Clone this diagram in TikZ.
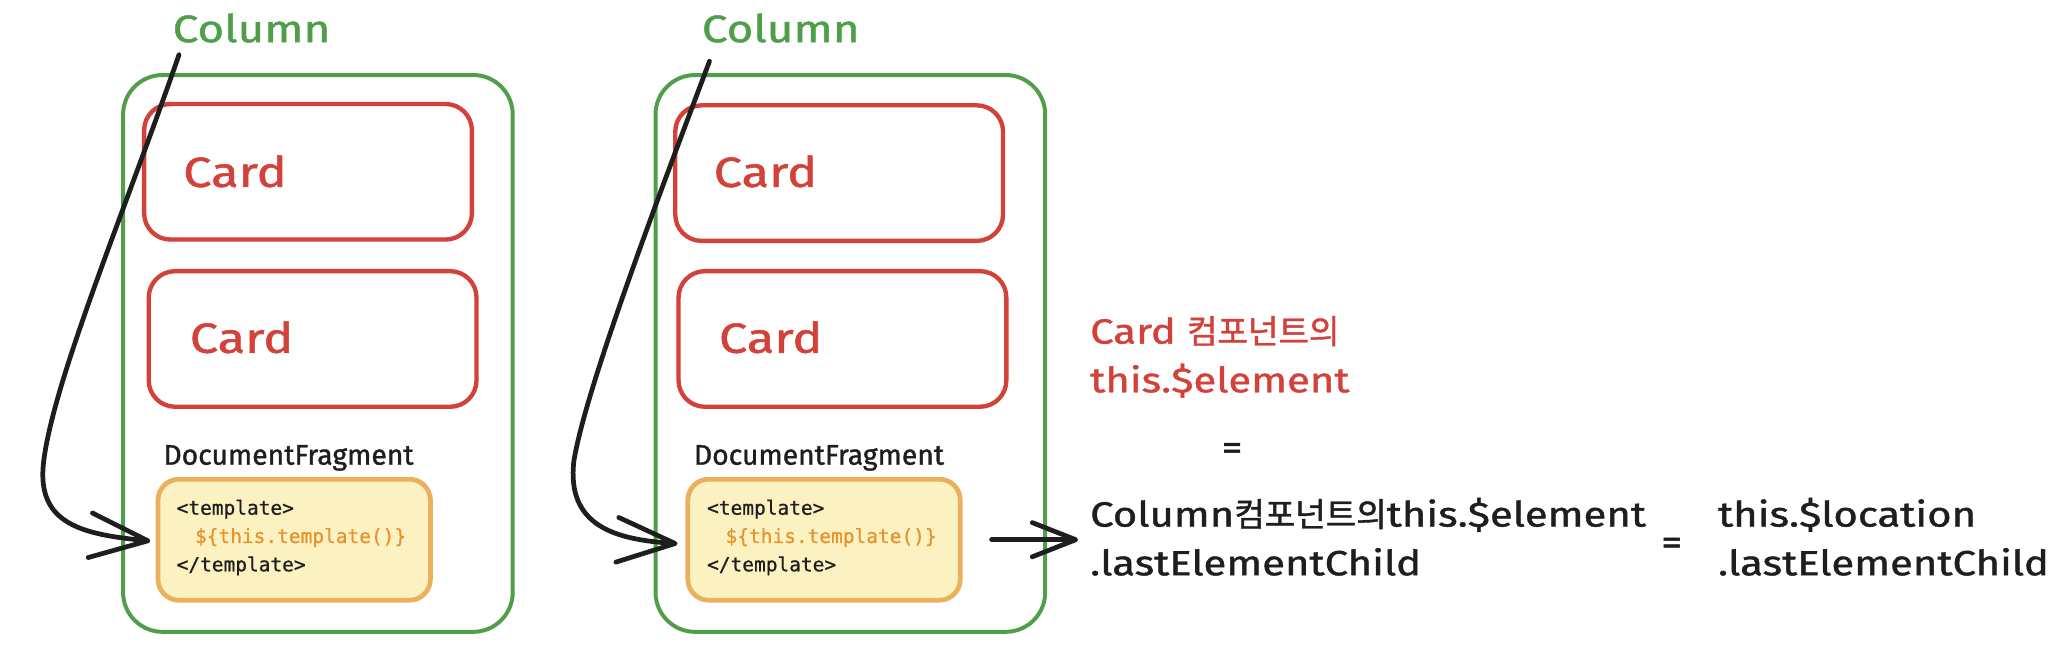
\documentclass[tikz,border=0pt]{standalone}
\usepackage{fontspec}
\setmainfont{Fira Sans}[FakeBold=1.2]
\newfontfamily\krf[Scale=0.95,FakeBold=1.2]{Noto Sans CJK KR}
\newfontfamily\codef[FakeBold=0.8]{DejaVu Sans Mono}
\newfontfamily\widef[FakeStretch=1.2,FakeBold=1.2]{Fira Sans}
\usetikzlibrary{arrows.meta,calc}
\definecolor{cgreen}{HTML}{4F9E4A}
\definecolor{cred}{HTML}{D2413A}
\definecolor{cfill}{HTML}{FCF1C0}
\definecolor{cedge}{HTML}{EBB05B}
\definecolor{corange}{HTML}{E8922F}
\definecolor{cink}{HTML}{1E1E1E}
\begin{document}
\begin{tikzpicture}[x=1pt,y=-1pt,
  colbox/.style={draw=cgreen, line width=3pt, rounded corners=30pt, inner sep=0pt, minimum width=296pt, minimum height=423pt},
  cardbox/.style={draw=cred, line width=3.3pt, rounded corners=20pt, inner sep=0pt, minimum width=249pt, minimum height=103pt},
  fragbox/.style={draw=cedge, fill=cfill, line width=3.6pt, rounded corners=16pt, inner sep=0pt, minimum width=207pt, minimum height=92pt},
  collbl/.style={text=cgreen, font=\widef\fontsize{29}{34}\selectfont, inner sep=0pt},
  cardlbl/.style={text=cred, font=\widef\fontsize{32}{38}\selectfont, inner sep=0pt},
  fraglbl/.style={text=cink, font=\fontsize{21.5}{24}\selectfont, inner sep=0pt},
  codetxt/.style={text=cink, font=\codef\fontsize{14.8}{21.5}\selectfont, align=left, inner sep=0pt},
  rtxt/.style={text=cink, font=\widef\fontsize{26.5}{37}\selectfont, align=left, inner sep=0pt},
  link/.style={draw=cink, line width=3.6pt, line cap=round, -{Straight Barb[length=44pt,width=34pt,round]}},
  shortlink/.style={draw=cink, line width=3.6pt, line cap=round, -{Straight Barb[length=33pt,width=26pt,round]}}
]
\useasboundingbox (0,0) rectangle (1568,498);

% left column
\node[colbox] (g1) at (241.5,268.5) {};
\node[cardbox] (k1) at (234,130.5) {};
\node[cardbox] (k2) at (237.5,257.5) {};
\node[fragbox] (y1) at (223.5,410) {};
\node[collbl, anchor=base west] (col1) at (131,32) {Column};
\node[cardlbl, anchor=base west] (k1t) at (139,142) {Card};
\node[cardlbl, anchor=base west] (k2t) at (144,268) {Card};
\node[fraglbl, anchor=base west] (f1) at (124,353) {DocumentFragment};
\node[codetxt, anchor=base west] (c1) at (134,434) {<template>\\\hspace*{14pt}\textcolor{corange}{\$\{this.template()\}}\\</template>};

% right column
\node[colbox] (g2) at (646,268.5) {};
\node[cardbox] (k3) at (637.5,131.5) {};
\node[cardbox] (k4) at (640,257.5) {};
\node[fragbox] (y2) at (626,410) {};
\node[collbl, anchor=base west] (col2) at (533,32) {Column};
\node[cardlbl, anchor=base west] (k3t) at (542,142) {Card};
\node[cardlbl, anchor=base west] (k4t) at (546,268) {Card};
\node[fraglbl, anchor=base west] (f2) at (527,353) {DocumentFragment};
\node[codetxt, anchor=base west] (c2) at (537,434) {<template>\\\hspace*{14pt}\textcolor{corange}{\$\{this.template()\}}\\</template>};

% right texts
\node[rtxt, text=cred, anchor=base west] (rt1) at (828,298) {Card {\krf 컴포넌트의}\\this.\$element};
\node[rtxt, anchor=base] (eq1) at (936,349) {=};
\node[rtxt, anchor=base west] (rt2) at (828,437) {Column{\krf 컴포넌트의}this.\$element\\.lastElementChild};
\node[rtxt, anchor=base] (eq2) at (1270,421) {=};
\node[rtxt, anchor=base west] (rt3) at (1305,437) {this.\$location\\.lastElementChild};

% connectors
\draw[link] ($(col1.south west)+(5,9)$) .. controls (95,160) and (40,290) .. (33,352) .. controls (28,398) and (62,406) .. ($(y1.west)+(-4,1)$);
\draw[link] ($(col2.south west)+(6,14)$) .. controls (500,150) and (445,295) .. (436,350) .. controls (430,400) and (468,410) .. ($(y2.west)+(-6,3)$);
\draw[shortlink, shorten <=22pt, shorten >=9pt] (y2.east) -- (y2.east -| rt2.west);
\end{tikzpicture}
\end{document}
